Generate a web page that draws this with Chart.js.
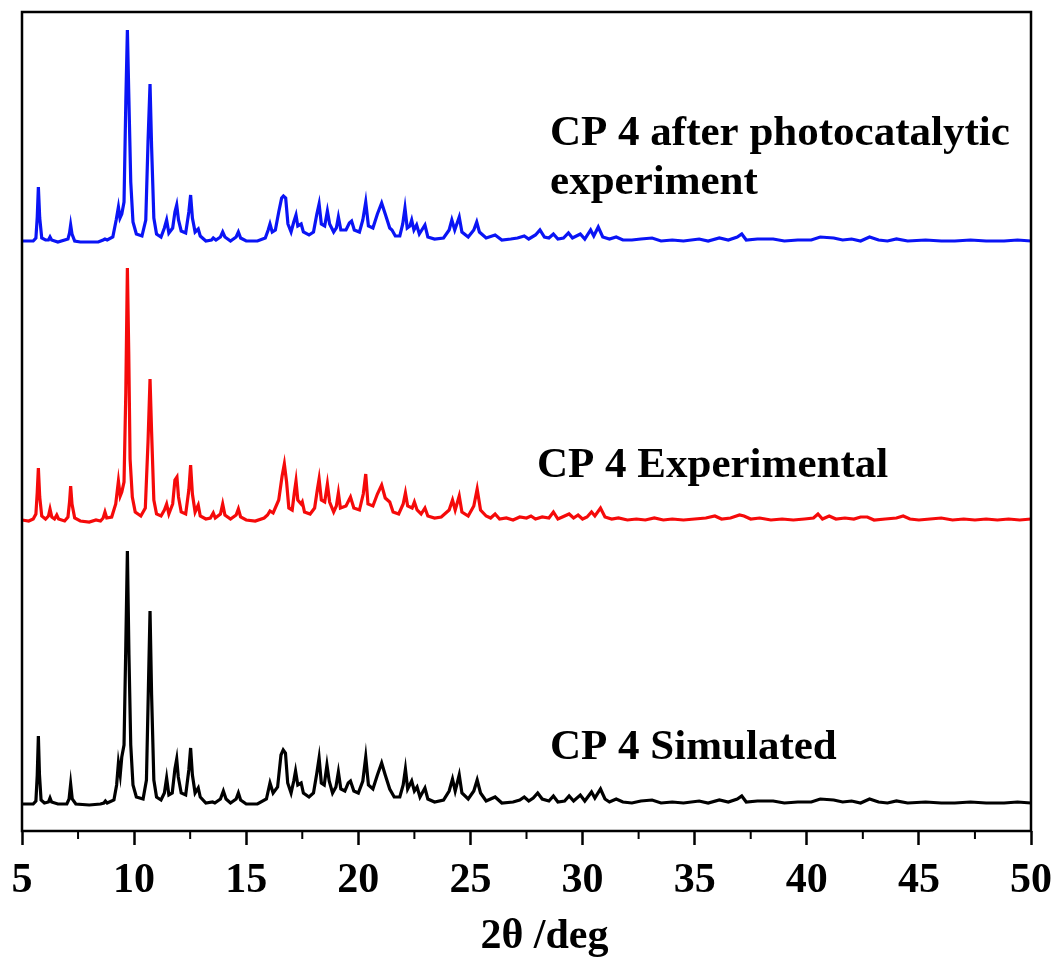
<!DOCTYPE html>
<html>
<head>
<meta charset="utf-8">
<title>PXRD CP 4</title>
<script src="https://cdn.jsdelivr.net/npm/chart.js@4.4.1/dist/chart.umd.min.js"></script>
<style>
  html, body { margin: 0; padding: 0; background: #fff; }
  #pxrd { display: block; }
</style>
</head>
<body>
<canvas id="pxrd" width="1057" height="960"></canvas>
<script>
/* ================= DATA (2θ in deg, intensity in a.u.) ================= */
const seriesNames = ["CP 4 after photocatalytic experiment", "CP 4 Experimental", "CP 4 Simulated"];

// vertical stacking offset of each pattern (a.u.)
const offsets = [589, 309, 26];

const afterPhoto = [
  [5.0,1],[5.5,1],[5.62,4],[5.68,25],[5.73,55],[5.79,24],[5.88,4],[6.05,2],[6.18,2],[6.25,5],[6.32,2],[6.6,0],
  [7.05,3],[7.12,9],[7.17,17],[7.23,8],[7.35,1],[7.6,0],[8.4,0],[8.62,2],[8.7,3],[8.8,2],[9.05,5],[9.2,22],
  [9.3,35],[9.37,24],[9.45,28],[9.55,40],[9.63,140],[9.70,212],[9.76,150],[9.85,60],[9.95,20],[10.1,8],[10.35,6],
  [10.52,22],[10.62,100],[10.71,158],[10.78,95],[10.88,24],[11.0,8],[11.2,5],[11.35,14],[11.45,22],[11.55,9],
  [11.72,14],[11.82,30],[11.9,37],[11.98,22],[12.1,11],[12.3,9],[12.44,30],[12.52,47],[12.6,24],[12.72,10],
  [12.86,13],[12.95,6],[13.2,1],[13.45,2],[13.53,4],[13.65,2],[13.85,5],[13.95,10],[14.05,5],[14.3,1],[14.55,5],
  [14.65,10],[14.75,4],[15.0,1],[15.5,1],[15.85,4],[15.98,12],[16.06,18],[16.16,10],[16.3,12],[16.45,30],
  [16.58,44],[16.66,46],[16.76,44],[16.86,18],[17.0,10],[17.12,20],[17.22,27],[17.3,16],[17.45,18],[17.55,10],
  [17.8,7],[18.0,10],[18.15,28],[18.25,38],[18.35,18],[18.5,16],[18.62,31],[18.72,18],[18.9,10],[19.02,14],
  [19.11,25],[19.22,12],[19.45,12],[19.6,19],[19.7,21],[19.82,12],[20.05,10],[20.2,22],[20.33,40],[20.45,16],
  [20.65,14],[20.85,28],[21.04,39],[21.2,28],[21.4,14],[21.5,12],[21.65,6],[21.85,6],[21.98,18],[22.08,34],
  [22.18,14],[22.3,16],[22.38,22],[22.48,12],[22.6,17],[22.72,8],[22.97,17],[23.1,5],[23.4,3],[23.8,4],
  [24.05,12],[24.17,22],[24.3,12],[24.5,25],[24.62,10],[24.9,5],[25.15,12],[25.28,20],[25.4,10],[25.7,4],
  [26.1,7],[26.4,2],[26.8,3],[27.1,4],[27.4,6],[27.6,3],[27.9,7],[28.1,12],[28.3,5],[28.5,4],[28.7,8],[28.9,3],
  [29.15,4],[29.37,9],[29.55,4],[29.9,8],[30.1,3],[30.36,12],[30.5,6],[30.7,15],[30.9,5],[31.2,3],[31.5,5],
  [31.8,2],[32.2,2],[32.6,3],[33.1,4],[33.5,1],[34.0,2],[34.5,1],[35.2,3],[35.6,1],[36.1,4],[36.5,2],[36.9,5],
  [37.1,8],[37.3,2],[37.8,3],[38.5,3],[39.0,1],[39.6,2],[40.2,2],[40.6,5],[41.2,4],[41.6,2],[42.0,3],[42.4,1],
  [42.8,5],[43.2,2],[43.6,1],[44.0,3],[44.5,1],[45.3,2],[46.0,1],[46.6,1],[47.3,2],[48.0,1],[48.8,1],[49.4,2],[50,1]
];

const experimental = [
  [5.0,2],[5.3,1],[5.5,3],[5.62,8],[5.68,30],[5.73,54],[5.79,25],[5.88,6],[6.05,3],[6.18,6],[6.25,13],[6.33,5],
  [6.45,3],[6.55,7],[6.63,3],[6.9,1],[7.05,5],[7.12,20],[7.17,36],[7.23,18],[7.35,4],[7.6,1],[8.0,0],[8.3,2],
  [8.5,1],[8.62,4],[8.7,10],[8.78,4],[9.0,5],[9.18,18],[9.3,41],[9.38,26],[9.45,30],[9.55,40],[9.63,130],
  [9.70,254],[9.76,170],[9.82,63],[9.92,25],[10.05,10],[10.3,6],[10.5,14],[10.62,80],[10.71,143],[10.78,90],
  [10.88,22],[11.0,8],[11.2,6],[11.35,12],[11.45,18],[11.55,8],[11.72,18],[11.82,42],[11.91,45],[11.98,25],
  [12.1,10],[12.3,8],[12.44,32],[12.52,57],[12.6,28],[12.72,10],[12.86,17],[12.95,6],[13.2,3],[13.4,4],
  [13.53,9],[13.62,4],[13.85,8],[13.95,18],[14.05,7],[14.3,3],[14.55,7],[14.65,13],[14.75,5],[15.0,2],
  [15.4,1],[15.8,4],[15.95,7],[16.06,11],[16.2,9],[16.45,22],[16.6,46],[16.7,58],[16.8,40],[16.9,14],
  [17.05,12],[17.15,30],[17.22,41],[17.3,22],[17.45,18],[17.5,20],[17.6,10],[17.85,8],[18.05,14],[18.17,32],
  [18.25,43],[18.35,22],[18.5,20],[18.62,38],[18.72,20],[18.9,10],[19.02,16],[19.11,29],[19.2,14],[19.45,16],
  [19.65,25],[19.8,14],[20.05,12],[20.22,28],[20.33,48],[20.43,18],[20.65,16],[20.85,28],[21.04,37],[21.2,24],
  [21.4,20],[21.55,10],[21.8,8],[22.0,18],[22.1,29],[22.2,16],[22.4,14],[22.5,20],[22.62,12],[22.8,8],
  [22.97,14],[23.1,6],[23.4,4],[23.7,5],[24.05,12],[24.2,22],[24.32,12],[24.5,26],[24.62,10],[24.9,6],
  [25.15,16],[25.3,33],[25.45,12],[25.7,6],[25.9,4],[26.1,8],[26.3,3],[26.6,4],[26.9,2],[27.2,5],[27.5,4],
  [27.7,6],[27.9,3],[28.2,5],[28.5,4],[28.7,10],[28.9,3],[29.1,5],[29.4,8],[29.6,4],[29.8,7],[30.0,3],
  [30.2,5],[30.4,10],[30.55,6],[30.8,14],[31.0,5],[31.3,3],[31.6,4],[32.0,2],[32.4,3],[32.8,2],[33.2,4],
  [33.6,2],[34.0,3],[34.5,2],[35.0,3],[35.5,4],[35.9,6],[36.2,3],[36.6,4],[37.0,7],[37.2,6],[37.5,3],
  [37.9,4],[38.4,2],[38.9,3],[39.4,2],[39.9,3],[40.3,4],[40.5,8],[40.7,3],[41.0,6],[41.3,3],[41.7,4],
  [42.1,3],[42.4,5],[42.7,5],[43.0,2],[43.5,3],[44.0,4],[44.3,6],[44.6,3],[45.0,2],[45.5,3],[46.0,4],
  [46.5,2],[47.0,3],[47.5,2],[48.0,3],[48.5,2],[49.0,3],[49.5,2],[50,3]
];

const simulated = [
  [5.0,1],[5.5,1],[5.62,4],[5.68,30],[5.73,69],[5.78,30],[5.85,5],[6.0,2],[6.18,3],[6.25,7],[6.32,3],[6.6,1],
  [7.0,1],[7.1,6],[7.17,21],[7.24,6],[7.4,1],[8.0,0],[8.5,1],[8.65,2],[8.72,4],[8.8,2],[9.1,5],[9.22,20],
  [9.3,42],[9.38,30],[9.45,48],[9.55,60],[9.63,160],[9.70,254],[9.77,150],[9.85,60],[9.95,20],[10.1,8],
  [10.4,6],[10.55,25],[10.64,120],[10.71,194],[10.78,110],[10.88,25],[11.0,8],[11.2,5],[11.35,12],[11.45,27],
  [11.55,10],[11.7,12],[11.82,36],[11.9,46],[11.97,28],[12.1,12],[12.3,10],[12.44,35],[12.52,57],[12.6,30],
  [12.72,12],[12.86,17],[12.95,8],[13.2,2],[13.5,3],[13.6,2],[13.85,6],[13.98,14],[14.1,6],[14.3,2],[14.55,6],
  [14.65,12],[14.75,5],[15.0,1],[15.5,1],[15.9,6],[16.06,22],[16.2,12],[16.4,18],[16.55,50],[16.65,55],
  [16.75,52],[16.85,22],[17.0,12],[17.12,24],[17.2,34],[17.3,20],[17.45,22],[17.55,12],[17.8,8],[18.0,12],
  [18.15,32],[18.25,47],[18.35,22],[18.48,20],[18.6,40],[18.7,24],[18.85,12],[19.0,18],[19.11,33],[19.22,16],
  [19.4,14],[19.55,22],[19.65,24],[19.8,14],[20.0,12],[20.2,24],[20.33,48],[20.45,20],[20.65,16],[20.85,30],
  [21.04,42],[21.2,30],[21.4,16],[21.6,8],[21.85,8],[22.0,20],[22.1,36],[22.2,16],[22.38,24],[22.5,14],
  [22.62,18],[22.75,8],[22.97,17],[23.1,6],[23.4,3],[23.8,5],[24.05,14],[24.2,26],[24.32,14],[24.5,30],
  [24.62,12],[24.9,6],[25.15,14],[25.3,25],[25.45,12],[25.7,4],[26.1,8],[26.4,2],[26.9,3],[27.2,5],[27.4,8],
  [27.6,4],[27.8,7],[28.0,12],[28.2,6],[28.5,4],[28.7,9],[28.9,3],[29.2,4],[29.4,9],[29.6,4],[29.9,10],
  [30.1,4],[30.4,13],[30.55,7],[30.8,16],[31.0,6],[31.2,3],[31.5,6],[31.8,3],[32.2,2],[32.6,4],[33.1,5],
  [33.5,2],[34.0,3],[34.5,2],[35.2,4],[35.6,2],[36.1,5],[36.5,3],[36.9,6],[37.1,9],[37.3,3],[37.8,4],
  [38.5,4],[39.0,2],[39.6,3],[40.2,3],[40.6,6],[41.2,5],[41.6,3],[42.0,4],[42.4,2],[42.8,6],[43.2,3],
  [43.6,2],[44.0,4],[44.5,2],[45.3,3],[46.0,2],[46.6,2],[47.3,3],[48.0,2],[48.8,2],[49.4,3],[50,2]
];

// x axis: major ticks come from the scale, minor ticks halfway between
const xMin = 5;
const xMax = 50;
const xStep = 5;
const minorTicks = [7.5, 12.5, 17.5, 22.5, 27.5, 32.5, 37.5, 42.5, 47.5];
const xTitle = "2θ /deg";

/* ================= STYLE ================= */
const colors = ["#0a14f5", "#f50a0a", "#000000"];
const serif = "'Liberation Serif', 'Times New Roman', serif";

// text labels placed in data coordinates [x(deg), y(a.u.)]
const labels = [
  { text: "CP 4 after photocatalytic", x: 28.55, y: 686 },
  { text: "experiment", x: 28.55, y: 637 },
  { text: "CP 4 Experimental", x: 27.97, y: 354 },
  { text: "CP 4 Simulated", x: 28.55, y: 72 }
];

/* ================= PLUGINS ================= */
const framePlugin = {
  id: "frame",
  afterDatasetsDraw(chart) {
    const { ctx, chartArea: a, scales } = chart;
    ctx.save();
    ctx.strokeStyle = "#000";
    ctx.lineWidth = 2.5;
    ctx.strokeRect(a.left, a.top, a.right - a.left, a.bottom - a.top);

    // minor ticks
    ctx.lineWidth = 2;
    ctx.beginPath();
    minorTicks.forEach(v => {
      const px = scales.x.getPixelForValue(v);
      ctx.moveTo(px, a.bottom);
      ctx.lineTo(px, a.bottom + 8);
    });
    ctx.stroke();

    // series labels
    ctx.fillStyle = "#000";
    ctx.font = "bold 43px " + serif;
    ctx.textBaseline = "alphabetic";
    labels.forEach(l => {
      ctx.fillText(l.text, scales.x.getPixelForValue(l.x), scales.y.getPixelForValue(l.y));
    });

    // axis title, sits a little right of centre like the original
    ctx.font = "bold 42px " + serif;
    ctx.textAlign = "center";
    ctx.fillText(xTitle, scales.x.getPixelForValue(28.3), chart.height - 12);
    ctx.restore();
  }
};

/* ================= CHART ================= */
const patterns = [afterPhoto, experimental, simulated];

new Chart(document.getElementById("pxrd"), {
  type: "line",
  data: {
    datasets: patterns.map((pts, i) => ({
      label: seriesNames[i],
      data: pts.map(p => ({ x: p[0], y: p[1] + offsets[i] })),
      borderColor: colors[i],
      borderWidth: 3.2,
      pointRadius: 0,
      tension: 0,
      fill: false
    }))
  },
  options: {
    responsive: false,
    animation: false,
    devicePixelRatio: 1,
    layout: { padding: { left: 22, right: 26, top: 12, bottom: 0 } },
    plugins: {
      legend: { display: false },
      tooltip: { enabled: false }
    },
    scales: {
      x: {
        type: "linear",
        min: xMin,
        max: xMax,
        border: { display: false },
        grid: {
          drawOnChartArea: false,
          drawTicks: true,
          tickLength: 14,
          tickWidth: 2.5,
          tickColor: "#000"
        },
        ticks: {
          stepSize: xStep,
          padding: 11,
          color: "#000",
          font: { family: serif, size: 42, weight: "bold" },
          maxRotation: 0,
          autoSkip: false
        },
        title: { display: false },
        afterFit(scale) {
          scale.height = 129;
          scale.paddingLeft = 0;
          scale.paddingRight = 0;
        }
      },
      y: {
        display: false,
        min: 0,
        max: 819
      }
    }
  },
  plugins: [framePlugin]
});
</script>
</body>
</html>
